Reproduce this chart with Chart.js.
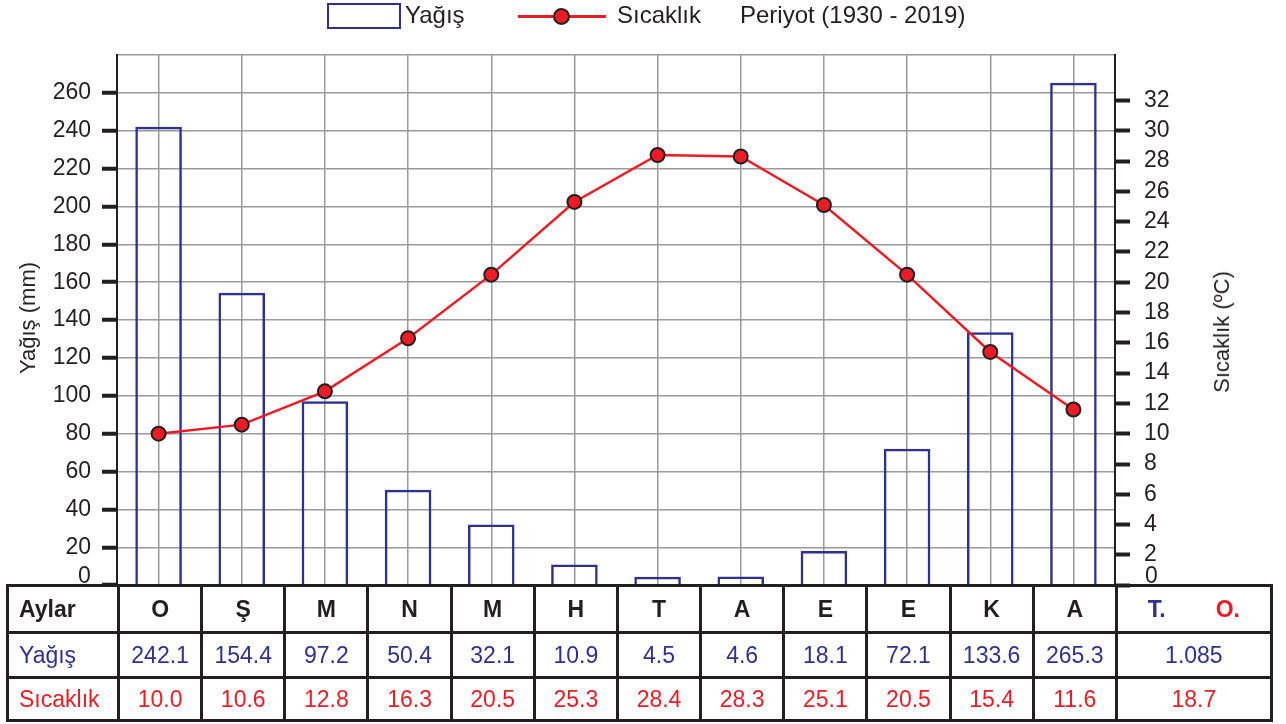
<!DOCTYPE html>
<html>
<head>
<meta charset="utf-8">
<script src="https://cdn.jsdelivr.net/npm/chart.js@4.4.0/dist/chart.umd.min.js"></script>
<style>
    body { margin: 0; background: #fff; font-family: "Liberation Sans", Arial, sans-serif; color: #231f20; }
    #wrap { position: relative; width: 1286px; height: 724px; overflow: hidden; }
    #chartBox { position: absolute; left: 0; top: 0; width: 1286px; height: 613px; }
    .lg { position: absolute; font-size: 24px; line-height: 28px; top: 1px; }
    .axis-title { position: absolute; font-size: 22px; white-space: nowrap; transform: translate(-50%, -50%) rotate(-90deg); }
    .zero { position: absolute; font-size: 23px; line-height: 26px; top: 562px; }
    #tbl { position: absolute; left: 6px; top: 584px; border-collapse: collapse; table-layout: fixed; font-size: 23px; }
    #tbl td { border: 3px solid #231f20; text-align: center; padding: 0; }
    #tbl td.first { text-align: left; padding-left: 10px; }
    .bold { font-weight: bold; }
    .navy { color: #2e3192; }
    .red { color: #ed1c24; }
</style>
</head>
<body>
<div id="wrap">
    <div id="chartBox"><canvas id="climateChart"></canvas></div>

    <!-- legend -->
    <div style="position:absolute; left:327px; top:3px; width:70px; height:22px; border:2.5px solid #2e3192;"></div>
    <div class="lg" style="left:405px;">Yağış</div>
    <div style="position:absolute; left:518px; top:15px; width:88px; height:2.5px; background:#ed1c24;"></div>
    <div style="position:absolute; left:553px; top:8px; width:13px; height:13px; border-radius:50%; background:#ed1c24; border:2px solid #231f20;"></div>
    <div class="lg" style="left:617px;">Sıcaklık</div>
    <div class="lg" style="left:740px;">Periyot (1930 - 2019)</div>

    <div class="axis-title" style="left:28px; top:318px;">Yağış (mm)</div>
    <div class="axis-title" style="left:1222px; top:332px;">Sıcaklık (ºC)</div>

    <!-- the "0" labels sit just above the bottom tick in the original -->
    <div class="zero" style="left:78px;">0</div>
    <div class="zero" style="left:1145px;">0</div>

    <table id="tbl"></table>
</div>

<script>
// data
const months = ['O', 'Ş', 'M', 'N', 'M', 'H', 'T', 'A', 'E', 'E', 'K', 'A'];
const rain = [242.1, 154.4, 97.2, 50.4, 32.1, 10.9, 4.5, 4.6, 18.1, 72.1, 133.6, 265.3];
const temp = [10.0, 10.6, 12.8, 16.3, 20.5, 25.3, 28.4, 28.3, 25.1, 20.5, 15.4, 11.6];
const rainTotal = '1.085';
const tempMean = '18.7';

const NAVY = '#2e3192';
const RED = '#ed1c24';
const INK = '#231f20';
const GRID = '#9a9a9a';

// table under the chart
function buildTable() {
    const colW = (1115 - 117) / 12;
    let html = '<colgroup><col style="width:111px">';
    months.forEach(() => { html += `<col style="width:${colW}px">`; });
    html += '<col style="width:155px"></colgroup>';

    html += '<tr style="height:47px"><td class="first bold">Aylar</td>';
    months.forEach(m => { html += `<td class="bold">${m}</td>`; });
    html += '<td class="bold"><span class="navy">T.</span><span style="display:inline-block;width:50px"></span><span class="red">O.</span></td></tr>';

    html += '<tr style="height:45px"><td class="first navy">Yağış</td>';
    rain.forEach(v => { html += `<td class="navy">${v.toFixed(1)}</td>`; });
    html += `<td class="navy">${rainTotal}</td></tr>`;

    html += '<tr style="height:43px"><td class="first red">Sıcaklık</td>';
    temp.forEach(v => { html += `<td class="red">${v.toFixed(1)}</td>`; });
    html += `<td class="red">${tempMean}</td></tr>`;

    document.getElementById('tbl').innerHTML = html;
}
buildTable();

const ctx = document.getElementById('climateChart').getContext('2d');
new Chart(ctx, {
    type: 'bar',
    data: {
        labels: months,
        datasets: [
            {
                type: 'line',
                label: 'Sıcaklık',
                data: temp,
                yAxisID: 'y1',
                borderColor: RED,
                borderWidth: 2.5,
                pointRadius: 7,
                pointBackgroundColor: RED,
                pointBorderColor: INK,
                pointBorderWidth: 2,
                tension: 0,
                order: 1
            },
            {
                label: 'Yağış',
                data: rain,
                yAxisID: 'y',
                backgroundColor: 'rgba(0,0,0,0)',
                borderColor: NAVY,
                borderWidth: 2.5,
                barPercentage: 0.56,
                categoryPercentage: 1,
                order: 2
            }
        ]
    },
    options: {
        responsive: true,
        maintainAspectRatio: false,
        animation: false,
        layout: { padding: { top: 55, bottom: 2, left: 0, right: 0 } },
        plugins: {
            legend: { display: false },
            tooltip: { enabled: false }
        },
        scales: {
            x: {
                grid: { offset: false, color: GRID, lineWidth: 1.5, drawTicks: false },
                border: { display: false },
                ticks: { display: false },
                afterFit: s => { s.height = 0; }
            },
            y: {
                position: 'left',
                min: 0,
                max: 280,
                ticks: {
                    stepSize: 20,
                    color: INK,
                    padding: 11,
                    font: { family: '"Liberation Sans", Arial, sans-serif', size: 23 },
                    callback: v => (v === 280 || v === 0 ? '' : v)
                },
                grid: {
                    color: GRID,
                    lineWidth: 1.5,
                    tickLength: 15,
                    tickWidth: 4,
                    tickColor: c => (c.tick && c.tick.value === 280 ? 'rgba(0,0,0,0)' : INK)
                },
                border: { color: INK, width: 2 },
                afterFit: s => { s.width = 117; }
            },
            y1: {
                position: 'right',
                min: 0,
                max: 35,
                ticks: {
                    stepSize: 2,
                    color: INK,
                    padding: 14,
                    font: { family: '"Liberation Sans", Arial, sans-serif', size: 23 },
                    callback: v => (v === 0 ? '' : v)
                },
                afterBuildTicks: s => { s.ticks = s.ticks.filter(t => t.value <= 32); },
                grid: {
                    drawOnChartArea: false,
                    tickLength: 15,
                    tickWidth: 4,
                    tickColor: INK
                },
                border: { color: INK, width: 2 },
                afterFit: s => { s.width = 171; }
            }
        }
    }
});
</script>
</body>
</html>
